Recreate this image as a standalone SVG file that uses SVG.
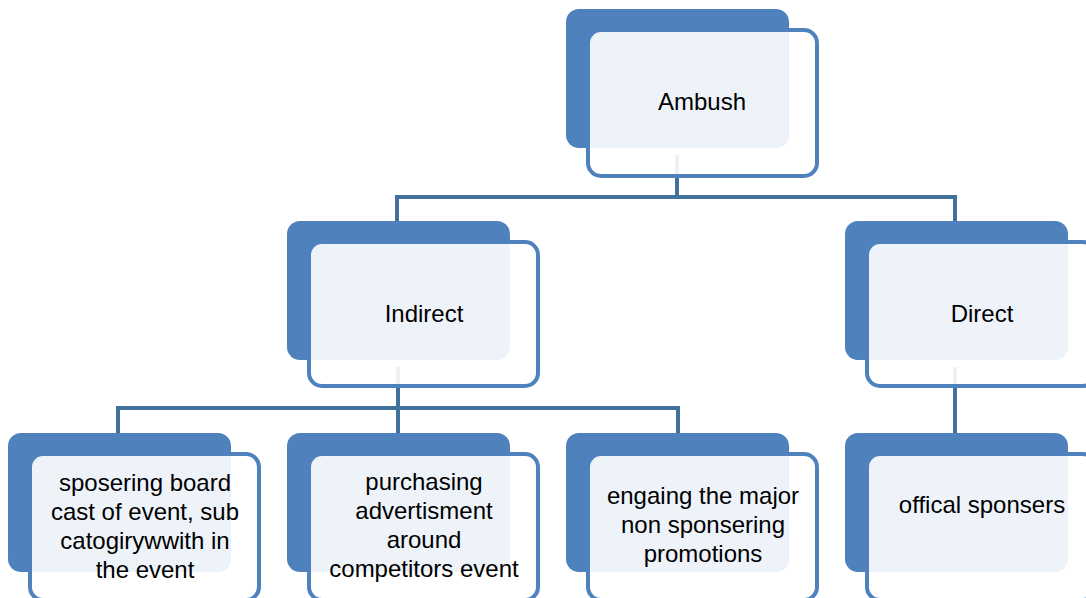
<svg xmlns="http://www.w3.org/2000/svg" width="1086" height="598" viewBox="0 0 1086 598">
<style>
.back{fill:#4F81BD;}
.front{fill:#FFFFFF;fill-opacity:0.9;stroke:#4F81BD;stroke-width:4;}
.conn{fill:none;stroke:#41719C;stroke-width:4;}
text{font-family:"Liberation Sans",Arial,sans-serif;font-size:24px;fill:#000;text-anchor:middle;}
</style>
<rect width="1086" height="598" fill="#FFFFFF"/>
<g id="connectors">
<path class="conn" d="M677 155V197M397 197H955M397 195V222M955 195V222"/>
<path class="conn" d="M398 367V408M118 408H678M118 406V433M398 406V433M678 406V433"/>
<path class="conn" d="M955 367V433"/>
</g>
<g id="node-ambush">
<rect class="back" x="566" y="9" width="223" height="139" rx="13"/>
<rect class="front" x="588" y="30" width="229" height="146" rx="13"/>
<text x="702" y="110">Ambush</text>
</g>
<g id="node-indirect">
<rect class="back" x="287" y="221" width="223" height="139" rx="13"/>
<rect class="front" x="309" y="242" width="229" height="144" rx="13"/>
<text x="424" y="322">Indirect</text>
</g>
<g id="node-direct">
<rect class="back" x="845" y="221" width="223" height="139" rx="13"/>
<rect class="front" x="867" y="242" width="229" height="144" rx="13"/>
<text x="982" y="322">Direct</text>
</g>
<g id="node-leaf1">
<rect class="back" x="8" y="433" width="223" height="139" rx="13"/>
<rect class="front" x="30" y="454" width="229" height="146" rx="13"/>
<text x="145" y="491">sposering board</text>
<text x="145" y="520">cast of event, sub</text>
<text x="145" y="549">catogirywwith in</text>
<text x="145" y="578">the event</text>
</g>
<g id="node-leaf2">
<rect class="back" x="287" y="433" width="223" height="139" rx="13"/>
<rect class="front" x="309" y="454" width="229" height="146" rx="13"/>
<text x="424" y="490">purchasing</text>
<text x="424" y="519">advertisment</text>
<text x="424" y="548">around</text>
<text x="424" y="577">competitors event</text>
</g>
<g id="node-leaf3">
<rect class="back" x="566" y="433" width="223" height="139" rx="13"/>
<rect class="front" x="588" y="454" width="229" height="146" rx="13"/>
<text x="703" y="504">engaing the major</text>
<text x="703" y="533">non sponsering</text>
<text x="703" y="562">promotions</text>
</g>
<g id="node-leaf4">
<rect class="back" x="845" y="433" width="223" height="139" rx="13"/>
<rect class="front" x="867" y="454" width="229" height="146" rx="13"/>
<text x="982" y="513">offical sponsers</text>
</g>
</svg>
